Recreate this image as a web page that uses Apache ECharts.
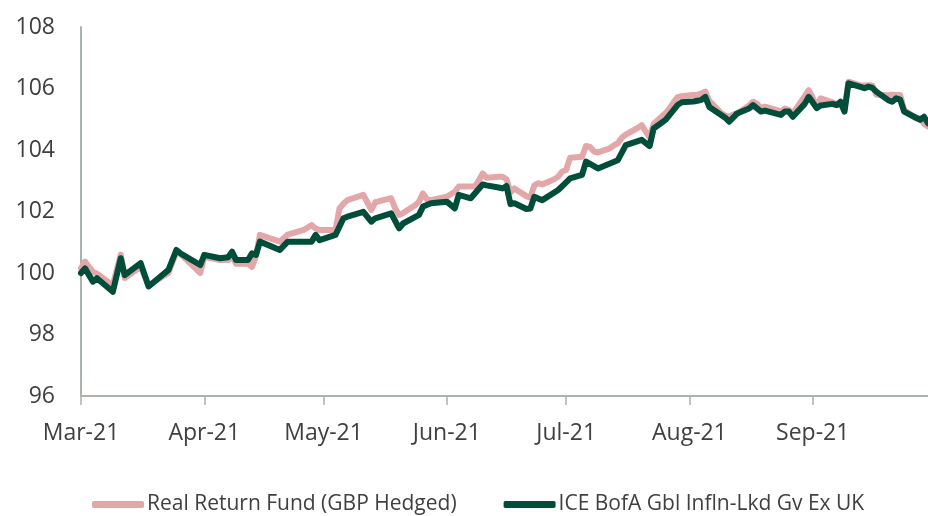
<!DOCTYPE html>
<html>
<head>
<meta charset="utf-8">
<script src="https://cdn.jsdelivr.net/npm/echarts@6/dist/echarts.min.js"></script>
<style>
html,body{margin:0;padding:0;background:#fff;}
#chart{width:928px;height:516px;}
</style>
</head>
<body>
<div id="chart"></div>
<script>
const seriesNames = ['Real Return Fund (GBP Hedged)', 'ICE BofA Gbl Infln-Lkd Gv Ex UK'];
const yTicks = [96, 98, 100, 102, 104, 106, 108];
const monthNames = ['Jan','Feb','Mar','Apr','May','Jun','Jul','Aug','Sep','Oct','Nov','Dec'];

const fundDates = ['2021-03-01','2021-03-02','2021-03-04','2021-03-05','2021-03-09','2021-03-11','2021-03-12','2021-03-16','2021-03-18','2021-03-23','2021-03-25','2021-03-26','2021-03-31',
'2021-04-01','2021-04-05','2021-04-07','2021-04-08','2021-04-09','2021-04-12','2021-04-13','2021-04-14','2021-04-15','2021-04-20','2021-04-22','2021-04-26','2021-04-28','2021-04-29','2021-04-30',
'2021-05-04','2021-05-05','2021-05-06','2021-05-07','2021-05-11','2021-05-12','2021-05-13','2021-05-14','2021-05-17','2021-05-18','2021-05-19','2021-05-20','2021-05-21','2021-05-24','2021-05-25','2021-05-26','2021-05-27','2021-05-28',
'2021-06-01','2021-06-03','2021-06-04','2021-06-07','2021-06-08','2021-06-09','2021-06-10','2021-06-11','2021-06-14','2021-06-15','2021-06-16','2021-06-17','2021-06-18','2021-06-21','2021-06-22','2021-06-23','2021-06-24','2021-06-25','2021-06-28','2021-06-29','2021-06-30',
'2021-07-01','2021-07-02','2021-07-05','2021-07-06','2021-07-07','2021-07-08','2021-07-09','2021-07-12','2021-07-13','2021-07-14','2021-07-15','2021-07-16','2021-07-19','2021-07-20','2021-07-21','2021-07-22','2021-07-23','2021-07-26','2021-07-27','2021-07-28','2021-07-29','2021-07-30',
'2021-08-02','2021-08-03','2021-08-04','2021-08-05','2021-08-06','2021-08-09','2021-08-10','2021-08-11','2021-08-12','2021-08-13','2021-08-16','2021-08-17','2021-08-18','2021-08-19','2021-08-20','2021-08-23','2021-08-24','2021-08-25','2021-08-26','2021-08-27','2021-08-30','2021-08-31',
'2021-09-01','2021-09-02','2021-09-03','2021-09-06','2021-09-07','2021-09-08','2021-09-09','2021-09-10','2021-09-13','2021-09-14','2021-09-15','2021-09-16','2021-09-17','2021-09-20','2021-09-21','2021-09-22','2021-09-23','2021-09-24','2021-09-27','2021-09-28','2021-09-29','2021-09-30'];
const fundValues = [100.15,100.37,100.04,99.98,99.60,100.60,99.84,100.20,99.60,100.00,100.70,100.62,100.00,
100.53,100.42,100.42,100.55,100.30,100.31,100.20,100.55,101.24,101.02,101.25,101.40,101.56,101.45,101.40,
101.40,102.10,102.25,102.37,102.54,102.30,102.05,102.30,102.40,102.43,102.10,101.89,101.95,102.20,102.32,102.59,102.40,102.37,
102.48,102.64,102.81,102.81,102.81,103.00,103.24,103.10,103.13,103.13,103.05,102.62,102.75,102.50,102.45,102.85,102.92,102.88,103.05,103.13,103.30,
103.35,103.75,103.78,104.13,104.10,103.95,103.92,104.05,104.15,104.22,104.40,104.50,104.72,104.81,104.60,104.40,104.85,105.20,105.35,105.55,105.72,105.75,
105.79,105.79,105.84,105.90,105.60,105.20,105.12,105.08,105.15,105.19,105.45,105.57,105.50,105.36,105.41,105.30,105.25,105.35,105.30,105.19,105.75,105.95,
105.70,105.41,105.68,105.55,105.50,105.45,105.30,106.22,106.10,106.10,106.11,106.10,105.80,105.78,105.80,105.79,105.79,105.30,105.03,105.03,104.85,104.76];

const benchDates = ['2021-03-01','2021-03-02','2021-03-04','2021-03-05','2021-03-09','2021-03-11','2021-03-12','2021-03-16','2021-03-18','2021-03-23','2021-03-25','2021-03-26','2021-03-31',
'2021-04-01','2021-04-05','2021-04-07','2021-04-08','2021-04-09','2021-04-12','2021-04-13','2021-04-14','2021-04-15','2021-04-20','2021-04-22','2021-04-28','2021-04-29','2021-04-30',
'2021-05-04','2021-05-06','2021-05-07','2021-05-11','2021-05-13','2021-05-14','2021-05-18','2021-05-20','2021-05-21','2021-05-25','2021-05-26','2021-05-28',
'2021-06-01','2021-06-03','2021-06-04','2021-06-07','2021-06-10','2021-06-11','2021-06-14','2021-06-15','2021-06-16','2021-06-17','2021-06-18','2021-06-21','2021-06-22','2021-06-23','2021-06-24','2021-06-25','2021-06-29',
'2021-07-01','2021-07-02','2021-07-05','2021-07-06','2021-07-09','2021-07-14','2021-07-16','2021-07-20','2021-07-22','2021-07-23','2021-07-26','2021-07-28','2021-07-29','2021-07-30',
'2021-08-02','2021-08-03','2021-08-04','2021-08-05','2021-08-06','2021-08-09','2021-08-10','2021-08-11','2021-08-12','2021-08-13','2021-08-16','2021-08-17','2021-08-19','2021-08-20','2021-08-24','2021-08-25','2021-08-26','2021-08-27','2021-08-30','2021-08-31',
'2021-09-01','2021-09-02','2021-09-03','2021-09-06','2021-09-07','2021-09-08','2021-09-09','2021-09-10','2021-09-13','2021-09-14','2021-09-15','2021-09-16','2021-09-17','2021-09-20','2021-09-21','2021-09-22','2021-09-23','2021-09-24','2021-09-27','2021-09-28','2021-09-29','2021-09-30'];
const benchValues = [100.00,100.15,99.72,99.83,99.39,100.48,99.93,100.32,99.56,100.10,100.75,100.64,100.26,
100.59,100.48,100.51,100.69,100.42,100.42,100.64,100.59,101.02,100.75,101.02,101.02,101.24,101.07,
101.24,101.78,101.83,101.99,101.67,101.78,101.94,101.45,101.61,101.89,102.16,102.27,
102.32,102.10,102.54,102.43,102.88,102.85,102.78,102.75,102.83,102.24,102.27,102.08,102.10,102.48,102.42,102.37,102.70,
102.95,103.08,103.19,103.62,103.40,103.67,104.16,104.33,104.13,104.70,104.98,105.30,105.46,105.55,
105.58,105.60,105.63,105.73,105.40,105.14,105.05,104.92,105.05,105.19,105.35,105.46,105.25,105.28,105.14,105.25,105.25,105.08,105.50,105.73,
105.55,105.36,105.45,105.50,105.46,105.57,105.25,106.17,106.05,106.01,106.06,106.02,105.90,105.62,105.57,105.68,105.64,105.25,105.05,104.98,105.08,104.87];

const fundData = fundDates.map((d, i) => [d, fundValues[i]]);
const benchData = benchDates.map((d, i) => [d, benchValues[i]]);

const axisColor = '#aab4ad';
const textColor = '#404040';
const fontFamily = '"Open Sans", sans-serif';

const chart = echarts.init(document.getElementById('chart'), null, {renderer: 'canvas'});
chart.setOption({
  animation: false,
  backgroundColor: '#ffffff',
  grid: {left: 81, right: 0, top: 27, bottom: 120, containLabel: false},
  xAxis: {
    type: 'time',
    min: '2021-03-01',
    max: '2021-09-30',
    minInterval: 28 * 86400000,
    maxInterval: 31 * 86400000,
    axisLine: {show: true, lineStyle: {color: axisColor, width: 2}},
    axisTick: {show: true, length: 9, lineStyle: {color: axisColor, width: 1.5}},
    splitLine: {show: false},
    axisLabel: {
      color: textColor, fontFamily: fontFamily, fontSize: 23, margin: 26,
      showMinLabel: true, showMaxLabel: false, hideOverlap: false,
      formatter: function (val) {
        const d = new Date(val);
        return monthNames[d.getMonth()] + '-' + String(d.getFullYear()).slice(2);
      }
    }
  },
  yAxis: {
    type: 'value',
    min: yTicks[0],
    max: yTicks[yTicks.length - 1],
    interval: 2,
    axisLine: {show: true, lineStyle: {color: axisColor, width: 2}},
    axisTick: {show: false},
    splitLine: {show: false},
    axisLabel: {color: textColor, fontFamily: fontFamily, fontSize: 23, margin: 26}
  },
  legend: {
    top: 489,
    left: 87,
    itemWidth: 52,
    itemHeight: 7,
    itemGap: 47,
    icon: 'roundRect',
    textStyle: {color: textColor, fontFamily: fontFamily, fontSize: 21, padding: [0, 0, 0, -2]},
    data: seriesNames
  },
  series: [
    {
      name: seriesNames[0], type: 'line', data: fundData, showSymbol: false, symbol: 'none',
      color: '#e3a7a9',
      lineStyle: {color: '#e3a7a9', width: 6, join: 'round', cap: 'round'},
      z: 2
    },
    {
      name: seriesNames[1], type: 'line', data: benchData, showSymbol: false, symbol: 'none',
      color: '#004d3a',
      lineStyle: {color: '#004d3a', width: 6, join: 'round', cap: 'round'},
      z: 3
    }
  ]
});
</script>
</body>
</html>
